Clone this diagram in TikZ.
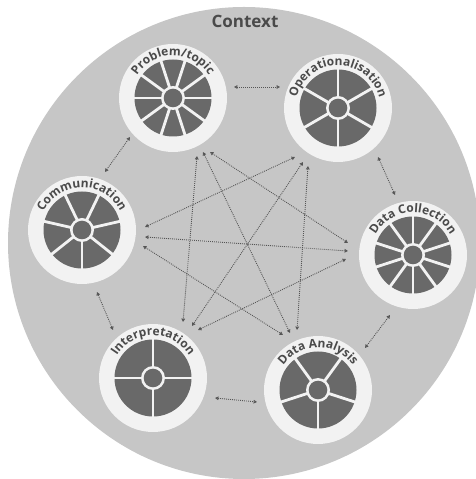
\documentclass[tikz,border=0pt]{standalone}
\usepackage{fontspec}
\setmainfont{Open Sans}
\usetikzlibrary{arrows.meta,calc,decorations.text}
\definecolor{ctxgray}{HTML}{C6C6C6}
\definecolor{wheelwhite}{HTML}{F2F2F2}
\definecolor{wheeldark}{HTML}{696969}
\definecolor{labelgray}{HTML}{4A4A4A}
\definecolor{arrowgray}{HTML}{555555}
\tikzset{
  wheelbg/.style={circle, fill=wheelwhite, minimum size=108pt, inner sep=0pt},
  conn/.style={draw=arrowgray, line width=0.9pt, dash pattern=on 0.9pt off 1.1pt,
    {Triangle[open,length=3.4pt,width=3.6pt]}-{Triangle[open,length=3.4pt,width=3.6pt]}},
  ctxlabel/.style={font=\bfseries\fontsize{17}{20}\selectfont, text=labelgray}
}
\newcommand\mywheel[5]{%
  \node[wheelbg] (#1) at (#2) {};
  \fill[wheeldark] (#1.center) circle[radius=38.5];
  \foreach \k in {1,...,#3} \draw[wheelwhite, line width=2.8pt] (#1.center) -- ++({#4+360*\k/#3}:40);
  \fill[wheelwhite] (#1.center) circle[radius=12];
  \fill[wheeldark] (#1.center) circle[radius=9.3];
  \path[decorate, decoration={text along path, text color=labelgray,
      text={|\bfseries\fontsize{12}{14}\selectfont|#5}, text align=center}]
    ($(#1.center)+(174:42.5)$) arc[start angle=174, end angle=6, radius=42.5];
}
\begin{document}
\begin{tikzpicture}[x=1pt,y=1pt]
\useasboundingbox (0,0) rectangle (476,479);
\fill[ctxgray] (244,236) circle[radius=236];
\node[ctxlabel] (ctx) at (245,458) {Context};

\mywheel{P}{173,381}{10}{0}{Problem/topic}
\mywheel{O}{338,371}{6}{30}{Operationalisation}
\mywheel{C}{82,249}{7}{-90}{Communication}
\mywheel{D}{413,224}{10}{18}{Data Collection}
\mywheel{I}{153,101}{4}{0}{Interpretation}
\mywheel{A}{318,89}{5}{-90}{Data Analysis}

% connector ends
\coordinate (P-I) at ($(P)+(24,-58)$);
\coordinate (P-A) at ($(P)+(30,-54)$);
\coordinate (P-D) at ($(P)+(37,-54)$);
\coordinate (P-O) at ($(P)+(61,11)$);
\coordinate (P-C) at ($(P)+(-43,-39)$);

\coordinate (O-P) at ($(O)+(-58,21)$);
\coordinate (O-C) at ($(O)+(-43,-49)$);
\coordinate (O-I) at ($(O)+(-35,-54)$);
\coordinate (O-A) at ($(O)+(-30,-58)$);
\coordinate (O-D) at ($(O)+(40,-49)$);

\coordinate (C-P) at ($(C)+(23,58)$);
\coordinate (C-O) at ($(C)+(63,3)$);
\coordinate (C-D) at ($(C)+(63,-7)$);
\coordinate (C-A) at ($(C)+(61,-16)$);
\coordinate (C-I) at ($(C)+(15,-62)$);

\coordinate (D-O) at ($(D)+(-18,60)$);
\coordinate (D-P) at ($(D)+(-65,12)$);
\coordinate (D-C) at ($(D)+(-65,4)$);
\coordinate (D-I) at ($(D)+(-67,-4)$);
\coordinate (D-A) at ($(D)+(-23,-60)$);

\coordinate (I-C) at ($(I)+(-40,48)$);
\coordinate (I-P) at ($(I)+(30,56)$);
\coordinate (I-O) at ($(I)+(39,52)$);
\coordinate (I-D) at ($(I)+(45,48)$);
\coordinate (I-A) at ($(I)+(62,-20)$);

\coordinate (A-I) at ($(A)+(-61,-12)$);
\coordinate (A-C) at ($(A)+(-35,55)$);
\coordinate (A-P) at ($(A)+(-28,57)$);
\coordinate (A-O) at ($(A)+(-21,60)$);
\coordinate (A-D) at ($(A)+(47,42)$);

% perimeter
\draw[conn] (P-O) -- (O-P);
\draw[conn] (P-C) -- (C-P);
\draw[conn] (O-D) -- (D-O);
\draw[conn] (C-I) -- (I-C);
\draw[conn] (I-A) -- (A-I);
\draw[conn] (D-A) -- (A-D);
% internal
\draw[conn] (P-I) -- (I-P);
\draw[conn] (P-A) -- (A-P);
\draw[conn] (P-D) -- (D-P);
\draw[conn] (O-C) -- (C-O);
\draw[conn] (O-I) -- (I-O);
\draw[conn] (O-A) -- (A-O);
\draw[conn] (C-D) -- (D-C);
\draw[conn] (C-A) -- (A-C);
\draw[conn] (I-D) -- (D-I);
\end{tikzpicture}
\end{document}
